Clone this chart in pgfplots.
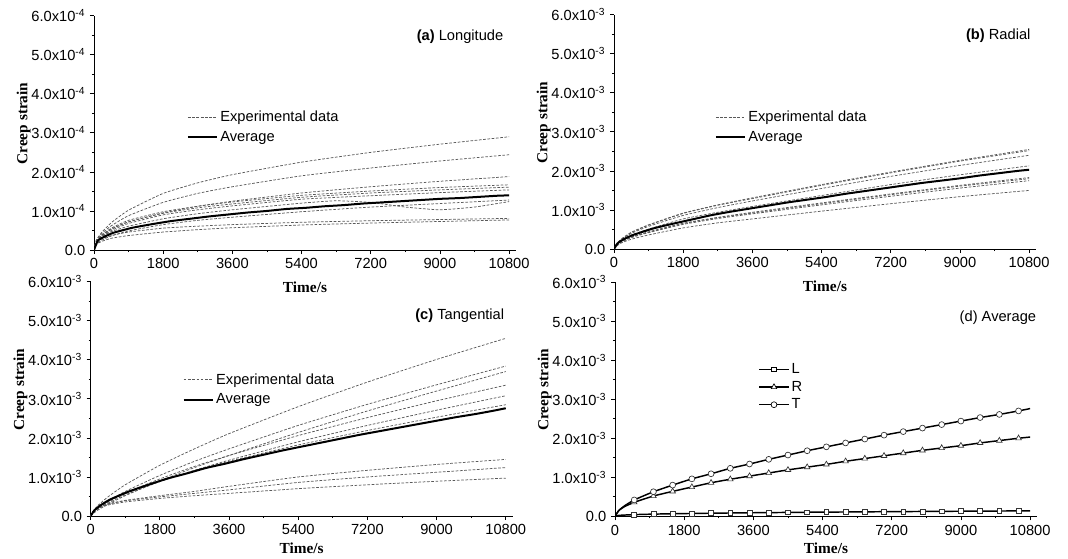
\documentclass[border=0pt]{standalone}
\usepackage{fontspec}
\setmainfont{Liberation Sans}
\newfontfamily\timesfont{Liberation Serif}
\usepackage{pgfplots}
\usepackage{pgfplotstable}
\pgfplotsset{compat=1.18}

% ---------- data (t in s, strain in units of 1e-4 for (a), 1e-3 otherwise)
\pgfplotstableread{
t y
0 0
60 0.25
200 0.45
450 0.70
900 1.02
1800 1.45
2700 1.72
3600 1.93
5400 2.25
7200 2.50
9000 2.71
10800 2.90
}\Aone
\pgfplotstableread{
t y
0 0
60 0.25
200 0.42
450 0.62
900 0.88
1800 1.22
2700 1.45
3600 1.62
5400 1.90
7200 2.10
9000 2.28
10800 2.44
}\Atwo
\pgfplotstableread{
t y
0 0
60 0.22
200 0.38
450 0.54
900 0.72
1800 0.95
2700 1.12
3600 1.25
5400 1.46
7200 1.62
9000 1.76
10800 1.88
}\Athree
\pgfplotstableread{
t y
0 0
60 0.22
200 0.38
450 0.56
900 0.76
1800 0.98
2700 1.12
3600 1.23
5400 1.40
7200 1.51
9000 1.60
10800 1.67
}\Afour
\pgfplotstableread{
t y
0 0
60 0.21
200 0.36
450 0.53
900 0.72
1800 0.94
2700 1.08
3600 1.18
5400 1.35
7200 1.46
9000 1.54
10800 1.61
}\Afive
\pgfplotstableread{
t y
0 0
60 0.20
200 0.34
450 0.50
900 0.68
1800 0.90
2700 1.03
3600 1.13
5400 1.30
7200 1.39
9000 1.47
10800 1.54
}\Asix
\pgfplotstableread{
t y
0 0
60 0.15
200 0.25
450 0.36
900 0.49
1800 0.65
2700 0.76
3600 0.84
5400 0.98
7200 1.10
9000 1.19
10800 1.28
}\Aseven
\pgfplotstableread{
t y
0 0
60 0.20
200 0.33
450 0.47
900 0.61
1800 0.80
2700 0.93
3600 1.03
5400 1.20
6300 1.26
7200 1.22
8100 1.10
9000 1.03
9900 1.10
10800 1.24
}\Aeight
\pgfplotstableread{
t y
0 0
60 0.18
200 0.28
450 0.37
900 0.46
1800 0.56
2700 0.61
3600 0.65
5400 0.71
7200 0.75
9000 0.78
10800 0.81
}\Anine
\pgfplotstableread{
t y
0 0
60 0.14
200 0.22
450 0.30
900 0.37
1800 0.46
2700 0.52
3600 0.57
5400 0.64
7200 0.69
9000 0.73
10800 0.77
}\Aten
\pgfplotstableread{
t y
0 0
100 0.24
250 0.33
500 0.44
1000 0.57
1500 0.66
2000 0.74
2500 0.80
3000 0.86
3500 0.91
4000 0.96
4500 1.00
5000 1.05
5500 1.08
6000 1.12
6500 1.15
7000 1.19
7500 1.22
8000 1.25
8500 1.28
9000 1.31
9500 1.33
10000 1.36
10500 1.39
10800 1.40
}\Aavg
% panel (b): columns b1..b8
\pgfplotstableread{
t b1 b2 b3 b4 b5 b6 b7 b8
0 0 0 0 0 0 0 0 0
60 0.13 0.12 0.12 0.10 0.09 0.09 0.09 0.07
200 0.26 0.26 0.25 0.22 0.19 0.19 0.18 0.16
450 0.43 0.42 0.40 0.36 0.31 0.30 0.29 0.25
900 0.62 0.61 0.58 0.51 0.44 0.43 0.42 0.36
1800 0.92 0.91 0.86 0.77 0.66 0.65 0.63 0.54
2700 1.13 1.12 1.06 0.94 0.81 0.80 0.78 0.67
3600 1.31 1.29 1.23 1.09 0.94 0.92 0.90 0.77
5400 1.65 1.63 1.55 1.37 1.18 1.16 1.13 0.97
7200 1.97 1.95 1.86 1.65 1.41 1.39 1.35 1.16
9000 2.27 2.25 2.14 1.90 1.63 1.61 1.56 1.34
10800 2.55 2.52 2.40 2.13 1.83 1.80 1.75 1.50
}\Bexp
% panel (c)
\pgfplotstableread{
t c1 c2 c3 c4 c5 c6 l1 l2 l3
0 0 0 0 0 0 0 0 0 0
60 0.12 0.09 0.06 0.09 0.08 0.10 0.12 0.11 0.10
200 0.28 0.21 0.16 0.21 0.19 0.21 0.22 0.21 0.20
450 0.49 0.38 0.30 0.36 0.33 0.36 0.31 0.30 0.28
900 0.80 0.63 0.52 0.59 0.54 0.57 0.40 0.39 0.36
1800 1.30 1.04 0.90 0.95 0.88 0.89 0.52 0.49 0.45
2700 1.72 1.40 1.24 1.27 1.17 1.16 0.63 0.58 0.52
3600 2.11 1.72 1.55 1.55 1.43 1.40 0.76 0.67 0.58
5400 2.80 2.32 2.14 2.06 1.90 1.82 1.00 0.86 0.70
7200 3.43 2.86 2.69 2.52 2.32 2.19 1.17 1.00 0.80
9000 4.01 3.36 3.20 2.95 2.71 2.53 1.32 1.12 0.89
10800 4.55 3.84 3.70 3.35 3.08 2.85 1.45 1.24 0.97
}\Cexp
% averages (units 1e-3)
\pgfplotstableread{
t L R T
0 0 0 0
100 0.024 0.15 0.15
250 0.033 0.25 0.27
500 0.044 0.36 0.42
1000 0.057 0.52 0.63
1500 0.066 0.64 0.80
2000 0.074 0.75 0.96
2500 0.080 0.86 1.09
3000 0.086 0.95 1.23
3500 0.091 1.03 1.34
4000 0.096 1.11 1.46
4500 0.100 1.19 1.57
5000 0.105 1.26 1.68
5500 0.108 1.33 1.78
6000 0.112 1.41 1.88
6500 0.115 1.48 1.98
7000 0.119 1.55 2.08
7500 0.122 1.62 2.17
8000 0.125 1.69 2.26
8500 0.128 1.75 2.35
9000 0.131 1.81 2.44
9500 0.133 1.88 2.53
10000 0.136 1.94 2.61
10500 0.139 2.00 2.70
10800 0.140 2.03 2.76
}\Avgs

\pgfplotsset{
  creep/.style={
    scale only axis, width=316.5pt, height=175.7pt,
    xmin=0, xmax=10980, ymin=0, ymax=6,
    axis lines=left,
    axis line style={line width=0.7pt, -},
    scaled x ticks=false, scaled y ticks=false,
    xtick={0,1800,3600,5400,7200,9000,10800},
    xticklabels={0,1800,3600,5400,7200,9000,10800},
    ytick={0,1,2,3,4,5,6},
    minor x tick num=1, minor y tick num=1,
    tick align=outside,
    major tick length=3pt, minor tick length=1.6pt,
    every tick/.style={line width=0.6pt, black},
    ticklabel style={font=\fontsize{11}{13}\selectfont},
    xlabel={\timesfont\bfseries Time/s},
    ylabel={\timesfont\bfseries Creep strain},
    label style={font=\fontsize{11.5}{13}\selectfont},
    ylabel style={inner sep=0pt, at={(ticklabel cs:0.54,-3pt)}},
    legend style={draw=none, fill=none, anchor=north west,
      font=\fontsize{11}{13}\selectfont, row sep=2.5pt,
      nodes={inner sep=1.6pt}},
    legend cell align=left,
    legend image code/.code={\draw[mark repeat=2,mark phase=2,##1] plot coordinates {(0pt,0pt) (11pt,0pt) (22pt,0pt)};},
  },
  expst/.style={black!65, line width=0.55pt, dash pattern=on 2pt off 1.2pt},
  avgst/.style={black, line width=1.5pt},
  e4/.style={yticklabels={0.0,1.0x10\textsuperscript{-4},2.0x10\textsuperscript{-4},3.0x10\textsuperscript{-4},4.0x10\textsuperscript{-4},5.0x10\textsuperscript{-4},6.0x10\textsuperscript{-4}}},
  e3/.style={yticklabels={0.0,1.0x10\textsuperscript{-3},2.0x10\textsuperscript{-3},3.0x10\textsuperscript{-3},4.0x10\textsuperscript{-3},5.0x10\textsuperscript{-3},6.0x10\textsuperscript{-3}}},
}

\begin{document}
\begin{tikzpicture}
\useasboundingbox (0,0) rectangle (801pt,418.5pt);

% ---------------- (a)
\begin{axis}[creep, e4, at={(70.5pt,231pt)}, anchor=south west,
  xlabel style={yshift=-3pt},
  legend style={at={(0.21,0.615)}}]
\addlegendimage{expst}\addlegendentry{Experimental data}
\addlegendimage{avgst}\addlegendentry{Average}
\addplot[expst, smooth, tension=0.3, forget plot] table[x=t,y=y] {\Aone};
\addplot[expst, smooth, tension=0.3, forget plot] table[x=t,y=y] {\Atwo};
\addplot[expst, smooth, tension=0.3, forget plot] table[x=t,y=y] {\Athree};
\addplot[expst, smooth, tension=0.3, forget plot] table[x=t,y=y] {\Afour};
\addplot[expst, smooth, tension=0.3, forget plot] table[x=t,y=y] {\Afive};
\addplot[expst, smooth, tension=0.3, forget plot] table[x=t,y=y] {\Asix};
\addplot[expst, smooth, tension=0.3, forget plot] table[x=t,y=y] {\Aseven};
\addplot[expst, smooth, tension=0.3, forget plot] table[x=t,y=y] {\Aeight};
\addplot[expst, smooth, tension=0.3, forget plot] table[x=t,y=y] {\Anine};
\addplot[expst, smooth, tension=0.3, forget plot] table[x=t,y=y] {\Aten};
\addplot[avgst, smooth, tension=0.3, forget plot] table[x=t,y=y] {\Aavg};
\node[anchor=east, font=\fontsize{11}{13}\selectfont] at (rel axis cs:0.981,0.91) {\textbf{(a)} Longitude};
\end{axis}

% ---------------- (b)
\begin{axis}[creep, e3, at={(460.5pt,231.75pt)}, anchor=south west,
  xlabel style={yshift=-3pt},
  legend style={at={(0.229,0.61)}}]
\addlegendimage{expst}\addlegendentry{Experimental data}
\addlegendimage{avgst}\addlegendentry{Average}
\foreach \c in {b1,b2,b3,b4,b5,b6,b7,b8}{
  \addplot[expst, smooth, tension=0.3, forget plot] table[x=t,y=\c] {\Bexp};
}
\addplot[avgst, smooth, tension=0.3, forget plot] table[x=t,y=R] {\Avgs};
\node[anchor=east, font=\fontsize{11}{13}\selectfont] at (rel axis cs:0.998,0.91) {\textbf{(b)} Radial};
\end{axis}

% ---------------- (c)
\begin{axis}[creep, e3, at={(68pt,31.5pt)}, anchor=south west,
  xlabel style={yshift=1pt},
  legend style={at={(0.208,0.63)}}]
\addlegendimage{expst}\addlegendentry{Experimental data}
\addlegendimage{avgst}\addlegendentry{Average}
\foreach \c in {c1,c2,c3,c4,c5,c6,l1,l2,l3}{
  \addplot[expst, smooth, tension=0.3, forget plot] table[x=t,y=\c] {\Cexp};
}
\addplot[avgst, smooth, tension=0.3, forget plot] table[x=t,y=T] {\Avgs};
\node[anchor=east, font=\fontsize{11}{13}\selectfont] at (rel axis cs:0.991,0.856) {\textbf{(c)} Tangential};
\end{axis}

% ---------------- (d)
\begin{axis}[creep, e3, at={(461.25pt,31.25pt)}, anchor=south west,
  xlabel style={yshift=1pt},
  legend style={at={(0.33,0.675)}, row sep=1pt}]
\addlegendimage{black, line width=1.2pt, mark=square*, mark size=1.8pt, mark options={fill=white, line width=0.5pt}}\addlegendentry{L}
\addlegendimage{black, line width=1.2pt, mark=triangle*, mark size=2.4pt, mark options={fill=white, line width=0.5pt}}\addlegendentry{R}
\addlegendimage{black, line width=1.2pt, mark=*, mark size=2.2pt, mark options={fill=white, line width=0.5pt}}\addlegendentry{T}
\addplot[black, line width=1.1pt, smooth, tension=0.3, forget plot] table[x=t,y=L] {\Avgs};
\addplot[black, line width=1.1pt, smooth, tension=0.3, forget plot] table[x=t,y=R] {\Avgs};
\addplot[black, line width=1.1pt, smooth, tension=0.3, forget plot] table[x=t,y=T] {\Avgs};
\addplot[only marks, mark=square*, mark size=1.8pt, mark options={fill=white, draw=black!80, line width=0.5pt}, restrict x to domain=400:10600, forget plot] table[x=t,y=L] {\Avgs};
\addplot[only marks, mark=triangle*, mark size=2.4pt, mark options={fill=white, draw=black!80, line width=0.5pt}, restrict x to domain=400:10600, forget plot] table[x=t,y=R] {\Avgs};
\addplot[only marks, mark=*, mark size=2.2pt, mark options={fill=white, draw=black!80, line width=0.5pt}, restrict x to domain=400:10600, forget plot] table[x=t,y=T] {\Avgs};
\node[anchor=east, font=\fontsize{11}{13}\selectfont] at (rel axis cs:1.009,0.848) {(d) Average};
\end{axis}
\end{tikzpicture}
\end{document}
